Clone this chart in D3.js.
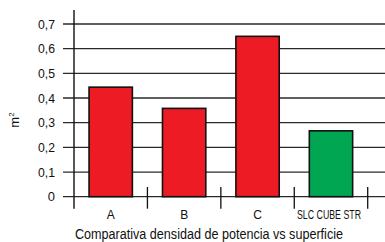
<!DOCTYPE html>
<html>
<head>
<meta charset="utf-8">
<script src="https://cdn.jsdelivr.net/npm/d3@7"></script>
<style>
  body { margin: 0; background: #fff; }
  text { font-family: "Liberation Sans Narrow", "Liberation Sans", Arial, sans-serif; fill: #111; }
</style>
</head>
<body>
<svg width="385" height="242"></svg>
<script>
var categories = ["A", "B", "C", "SLC CUBE STR"];
var values = [0.444, 0.358, 0.65, 0.267];
var colors = ["#ed1c24", "#ed1c24", "#ed1c24", "#00a651"];
var yTicks = [0, 0.1, 0.2, 0.3, 0.4, 0.5, 0.6, 0.7];
var yLabels = ["0", "0,1", "0,2", "0,3", "0,4", "0,5", "0,6", "0,7"];

var svg = d3.select("svg");

var y = d3.scaleLinear().domain([0, 0.7]).range([196.7, 24]);
var x = d3.scaleBand().domain(categories).range([74, 367.7]).padding(0);

// gridlines
svg.append("g")
    .selectAll("line")
    .data(yTicks)
    .enter().append("line")
      .attr("x1", 63)
      .attr("x2", 385)
      .attr("y1", function(d) { return y(d); })
      .attr("y2", function(d) { return y(d); })
      .style("stroke", "#2a2a2a")
      .style("stroke-width", "1.3px");

// y labels
svg.append("g")
    .selectAll("text")
    .data(yTicks)
    .enter().append("text")
      .attr("x", 55)
      .attr("y", function(d) { return y(d) + 4.5; })
      .style("font-size", "13px")
      .style("text-anchor", "end")
      .each(function(d, i) {
        var t = d3.select(this).text(yLabels[i]);
        if (yLabels[i].length > 1) t.attr("textLength", 17).attr("lengthAdjust", "spacingAndGlyphs");
      });

// bars
var bw = x.bandwidth() * 0.59;
svg.append("g")
    .selectAll("rect")
    .data(values)
    .enter().append("rect")
      .attr("x", function(d, i) { return x(categories[i]) + (x.bandwidth() - bw) / 2; })
      .attr("y", function(d) { return y(d); })
      .attr("width", bw)
      .attr("height", function(d) { return y(0) - y(d); })
      .style("fill", function(d, i) { return colors[i]; })
      .style("stroke", "#111")
      .style("stroke-width", "1.6px");

// y axis line
svg.append("line")
    .attr("x1", 74).attr("x2", 74)
    .attr("y1", 10).attr("y2", 208.7)
    .style("stroke", "#111")
    .style("stroke-width", "1.4px");

// category separators
svg.append("g")
    .selectAll("line")
    .data(categories)
    .enter().append("line")
      .attr("x1", function(d) { return x(d) + x.bandwidth(); })
      .attr("x2", function(d) { return x(d) + x.bandwidth(); })
      .attr("y1", 187)
      .attr("y2", 208.7)
      .style("stroke", "#111")
      .style("stroke-width", "1.3px");

// category labels
svg.append("g")
    .selectAll("text")
    .data(categories)
    .enter().append("text")
      .attr("x", function(d) { return x(d) + x.bandwidth() / 2 - (d.length > 1 ? 2 : 0); })
      .attr("y", 219)
      .style("font-size", "12px")
      .style("text-anchor", "middle")
      .each(function(d) {
        var t = d3.select(this).text(d);
        if (d.length > 1) t.attr("textLength", 64).attr("lengthAdjust", "spacingAndGlyphs");
      });

// axis title
svg.append("text")
    .attr("x", 209)
    .attr("y", 239)
    .style("font-size", "14px")
    .style("text-anchor", "middle")
    .attr("textLength", 268)
    .attr("lengthAdjust", "spacingAndGlyphs")
    .text("Comparativa densidad de potencia vs superficie");

var ylab = svg.append("text")
    .attr("transform", "translate(19,120) rotate(-90)")
    .style("font-size", "13px")
    .style("text-anchor", "middle");
ylab.append("tspan").text("m");
ylab.append("tspan").attr("dy", -5).style("font-size", "8px").text("2");
</script>
</body>
</html>
